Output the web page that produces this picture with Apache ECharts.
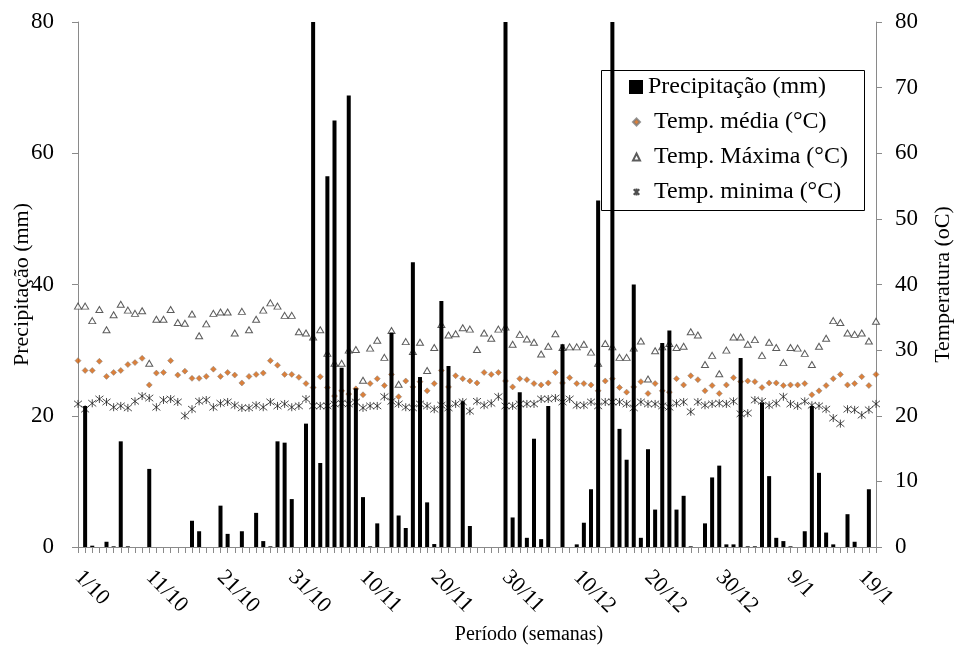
<!DOCTYPE html>
<html><head><meta charset="utf-8">
<script src="https://cdn.jsdelivr.net/npm/echarts@6/dist/echarts.min.js"></script>
<style>html,body{margin:0;padding:0;background:#fff}#c{width:960px;height:654px}</style>
</head><body><div id="c"></div>
<script>
// Days: 1/10 ... 21/1 (113 positions)
const monthStarts = [[10,31],[11,30],[12,31],[1,21]];
const categories = [];
monthStarts.forEach(([m,n])=>{for(let d=1;d<=n;d++) categories.push(d+'/'+m);});
const tickLabels = ['1/10','11/10','21/10','31/10','10/11','20/11','30/11','10/12','20/12','30/12','9/1','19/1'];

const precip = [null,21.5,0.2,0,0.8,0.1,16.1,0.1,0,0,
11.9,0,0,0,0,0,4.0,2.4,0,0,
6.3,2.0,0,2.4,0,5.2,0.9,0.1,16.1,15.9,
7.3,0,18.8,100,12.8,56.5,65.0,27.3,68.8,24.2,
7.6,0.1,3.6,0,32.7,4.8,2.9,43.4,25.9,6.8,
0.45,37.5,27.6,0,22.2,3.2,0,0,0,0,
100,4.5,23.6,1.4,16.5,1.2,21.5,0,30.9,0,
0.4,3.7,8.8,52.8,0,100,18.0,13.3,40.0,1.4,
14.9,5.7,31.1,33.0,5.7,7.8,0.1,0,3.6,10.6,
12.4,0.4,0.4,28.8,0.1,0.1,22.0,10.8,1.4,0.9,
0.1,0,2.4,21.5,11.3,2.2,0.4,0,5.0,0.8,
0,8.8,null];

const tMedia = [28.4,26.9,26.9,28.3,26.0,26.6,26.9,27.8,28.1,28.75,
24.7,26.5,26.6,28.4,26.2,26.8,25.7,25.7,26.0,27.1,
26.0,26.6,26.2,25.0,26.0,26.3,26.5,28.4,27.7,26.3,
26.3,25.85,24.9,24.3,25.95,24.3,23.0,23.8,23.3,24.1,
23.2,24.9,25.65,24.6,26.3,22.9,25.3,24.4,25.2,23.8,
24.9,26.9,24.4,26.1,25.65,25.3,25.0,26.6,26.3,26.6,
25.3,24.4,25.65,25.5,24.9,24.7,25.0,26.6,25.0,25.8,
24.9,24.9,24.7,23.8,25.3,25.65,24.3,23.6,24.4,25.2,
23.4,24.9,23.8,23.6,25.65,24.7,26.1,25.5,23.8,24.6,
23.4,24.7,25.8,25.2,25.3,25.2,24.3,25.0,25.0,24.6,
24.7,24.7,24.9,23.2,23.8,24.6,25.65,26.3,24.7,24.9,
25.95,24.6,26.3];

const tMax = [36.7,36.7,34.5,36.2,33.1,35.4,37.0,36.1,35.6,36.0,
28.0,34.7,34.7,36.2,34.2,34.1,35.5,32.2,34.0,35.6,
35.8,35.8,32.6,35.9,33.1,34.7,36.1,37.2,36.7,35.3,
35.3,32.8,32.6,32.0,33.1,29.5,28.0,28.0,30.0,30.1,
25.4,30.3,31.5,28.9,33.0,24.8,31.3,29.8,31.2,26.9,
30.4,33.9,32.3,32.5,33.4,33.2,30.1,32.6,31.8,33.2,
33.5,30.9,32.4,31.7,31.2,29.4,30.6,32.5,30.4,30.5,
30.5,30.9,29.7,28.0,31.0,30.5,28.9,28.9,30.3,31.4,
25.6,29.9,30.5,31.0,30.4,30.6,32.8,32.3,27.8,29.2,
26.4,30.0,32.0,32.0,30.9,31.6,29.2,31.2,30.4,28.1,
30.4,30.3,29.5,27.8,30.6,31.8,34.5,34.2,32.6,32.4,
32.6,31.4,34.4];

const tMin = [21.8,21.0,21.9,22.55,22.1,21.3,21.5,21.2,22.2,23.0,
22.7,21.3,22.4,22.55,22.1,20.0,21.0,22.2,22.4,21.3,
21.9,22.1,21.6,21.2,21.2,21.6,21.3,22.1,21.5,21.8,
21.3,21.5,22.55,21.5,21.5,21.5,21.8,21.9,21.8,22.1,
21.2,21.5,21.5,22.9,22.2,21.8,21.3,21.2,21.8,21.5,
21.0,21.6,21.2,21.8,22.1,20.7,22.2,21.6,21.9,22.9,
21.5,21.5,21.8,21.8,21.8,22.55,22.55,22.7,22.1,22.55,
21.6,21.6,22.1,21.5,22.1,22.1,22.1,21.8,21.2,22.1,
21.8,21.8,21.5,21.3,21.9,22.1,20.6,22.1,21.6,21.8,
21.9,21.8,22.2,20.3,20.4,22.4,22.2,21.6,21.9,22.9,
21.8,21.5,22.2,21.6,21.5,21.0,19.65,18.8,21.0,20.9,
20.1,20.9,21.8];

const FONT = "'Liberation Serif','Times New Roman',serif";
const axisGray = '#8a8a8a';
const chart = echarts.init(document.getElementById('c'));
chart.setOption({
  animation: false,
  backgroundColor: '#fff',
  grid: {left: 78, right: 84, top: 22, bottom: 107, containLabel: false, outerBoundsMode: 'none'},
  xAxis: {
    type: 'category', data: categories, boundaryGap: false,
    axisLine: {lineStyle: {color: axisGray, width: 1}},
    axisTick: {show: true, interval: 0, length: 6, lineStyle: {color: axisGray}},
    axisLabel: {interval: 9, rotate: -45, margin: 27, fontSize: 22, color: '#000', fontFamily: FONT,
      formatter: (v) => tickLabels.includes(v) ? v : ''},
    name: 'Período (semanas)', nameLocation: 'middle', nameGap: 78, nameMoveOverlap: false,
    nameTextStyle: {fontSize: 20, color: '#000', fontFamily: FONT, padding: [0, 0, 0, 104]}
  },
  yAxis: [{
    type: 'value', min: 0, max: 80, interval: 20, position: 'left',
    axisLine: {show: true, lineStyle: {color: axisGray}},
    axisTick: {show: true, length: 6, lineStyle: {color: axisGray}},
    splitLine: {show: false},
    axisLabel: {fontSize: 23, margin: 24, color: '#000', fontFamily: FONT},
    name: 'Precipitação (mm)', nameLocation: 'middle', nameGap: 45, nameRotate: 90, nameMoveOverlap: false,
    nameTextStyle: {fontSize: 22, color: '#000', fontFamily: FONT}
  }, {
    type: 'value', min: 0, max: 80, interval: 10, position: 'right',
    axisLine: {show: true, lineStyle: {color: axisGray}},
    axisTick: {show: true, length: 6, lineStyle: {color: axisGray}},
    splitLine: {show: false},
    axisLabel: {fontSize: 23, margin: 19, color: '#000', fontFamily: FONT},
    name: 'Temperatura (oC)', nameLocation: 'middle', nameGap: 56, nameRotate: 90, nameMoveOverlap: false,
    nameTextStyle: {fontSize: 22, color: '#000', fontFamily: FONT}
  }],
  legend: [{
    data: ['Precipitação (mm)'], left: 629, top: 75, orient: 'vertical', padding: 0,
    itemWidth: 14, itemHeight: 14, icon: 'rect',
    textStyle: {fontSize: 24, lineHeight: 22, color: '#000', fontFamily: FONT}
  }, {
    data: ['Temp. média (°C)', 'Temp. Máxima (°C)', 'Temp. minima (°C)'],
    left: 632, top: 110, orient: 'vertical', padding: 0, itemGap: 11,
    itemWidth: 7, itemHeight: 7,
    textStyle: {fontSize: 24, lineHeight: 22, color: '#000', fontFamily: FONT, padding: [0, 0, 0, 9]}
  }],
  graphic: [{
    type: 'rect', left: 599, top: 68, shape: {width: 263, height: 140},
    style: {fill: 'none', stroke: '#000', lineWidth: 1}, z: 100, silent: true
  }],
  series: [{
    name: 'Temp. média (°C)', type: 'scatter', yAxisIndex: 1, data: tMedia,
    symbol: 'diamond', symbolSize: 6,
    itemStyle: {color: '#D2600A', borderColor: '#7a7a7a', borderWidth: 0.6}
  }, {
    name: 'Temp. Máxima (°C)', type: 'scatter', yAxisIndex: 1, data: tMax,
    symbol: 'triangle', symbolSize: [7, 6],
    itemStyle: {color: '#ffffff', borderColor: '#333', borderWidth: 1}
  }, {
    name: 'Temp. minima (°C)', type: 'scatter', yAxisIndex: 1, data: tMin,
    symbol: 'path://M1,1L9,9M9,1L1,9M5,0L5,10', symbolSize: 8,
    itemStyle: {color: 'rgba(0,0,0,0)', borderColor: '#222', borderWidth: 1}
  }, {
    name: 'Precipitação (mm)', type: 'bar', yAxisIndex: 0, data: precip,
    barWidth: 4, clip: true, itemStyle: {color: '#000'}, z: 3
  }]
});
</script></body></html>
